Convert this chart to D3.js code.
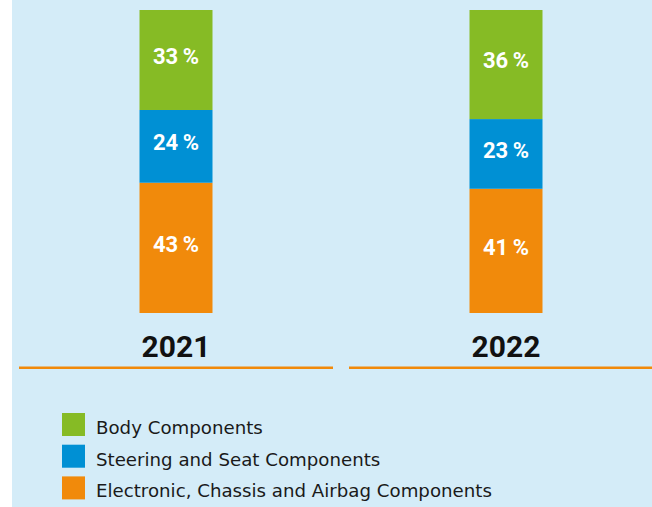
<!DOCTYPE html>
<html>
<head>
<meta charset="utf-8">
<script src="https://cdn.jsdelivr.net/npm/d3@7"></script>
<style>
  body { margin: 0; background: #ffffff; }
  .bg { fill: #d4ecf8; }
  .val { fill: #ffffff; font-family: Roboto, sans-serif; font-weight: bold; font-size: 22px; text-anchor: middle; }
  .year { fill: #111111; font-family: Roboto, sans-serif; font-weight: bold; font-size: 30px; text-anchor: middle; }
  .legend { fill: #1a1a1a; font-family: "DejaVu Sans", sans-serif; font-size: 18.2px; }
</style>
</head>
<body>
<div id="chart"></div>
<script>
// data
var years = ["2021", "2022"];
var categories = ["Electronic, Chassis and Airbag Components", "Steering and Seat Components", "Body Components"];
var shares2021 = [43, 24, 33];   // bottom to top
var shares2022 = [41, 23, 36];
var legendOrder = ["Body Components", "Steering and Seat Components", "Electronic, Chassis and Airbag Components"];

var colors = {
    "Body Components": "#86bb25",
    "Steering and Seat Components": "#0090d4",
    "Electronic, Chassis and Airbag Components": "#f18a0b"
};

var W = 652, H = 507;

var svg = d3.select("#chart")
    .append("svg")
        .attr("width", W)
        .attr("height", H);

// light blue panel
svg.append("rect").attr("class", "bg")
    .attr("x", 12).attr("y", 0)
    .attr("width", W - 12).attr("height", H);

// build the stacked table
var table = years.map(function(y, i) {
    var row = {year: y};
    var vals = i == 0 ? shares2021 : shares2022;
    categories.forEach(function(c, j) { row[c] = vals[j]; });
    return row;
});
var series = d3.stack().keys(categories)(table);

// scales
var x = d3.scaleBand().domain(years).range([19, 663]).paddingInner(16 / 330);
var y = d3.scaleLinear().domain([0, 100]).range([313, 10]);
var barW = 73;

function barX(d) { return x(d.data.year) + x.bandwidth() / 2 - barW / 2; }

var groups = svg.selectAll("g.layer")
    .data(series)
    .enter().append("g")
        .attr("class", "layer")
        .style("fill", function(d) { return colors[d.key]; });

groups.selectAll("rect")
    .data(function(d) { return d; })
    .enter().append("rect")
        .attr("x", barX)
        .attr("width", barW)
        .attr("y", function(d) { return y(d[1]); })
        .attr("height", function(d) { return y(d[0]) - y(d[1]); });

// percent labels inside the segments
groups.selectAll("text")
    .data(function(d) { return d; })
    .enter().append("text")
        .attr("class", "val")
        .attr("x", function(d) { return x(d.data.year) + x.bandwidth() / 2; })
        .attr("y", function(d) { return (y(d[0]) + y(d[1])) / 2 - 4; })
        .attr("dy", "0.36em")
        .text(function(d) { return (d[1] - d[0]) + "\u2009%"; });

// year labels and the orange rule under each
years.forEach(function(yr) {
    svg.append("text")
        .attr("class", "year")
        .attr("x", x(yr) + x.bandwidth() / 2)
        .attr("y", 357)
        .text(yr);

    svg.append("rect")
        .attr("x", x(yr))
        .attr("y", 366.5)
        .attr("width", x.bandwidth())
        .attr("height", 2.5)
        .style("fill", "#f18a0b");
});

// legend
var legend = svg.selectAll("g.leg")
    .data(legendOrder)
    .enter().append("g")
        .attr("class", "leg")
        .attr("transform", function(d, i) { return "translate(62," + (413 + i * 31.7) + ")"; });

legend.append("rect")
    .attr("width", 23)
    .attr("height", 23)
    .style("fill", function(d) { return colors[d]; });

legend.append("text")
    .attr("class", "legend")
    .attr("x", 34)
    .attr("y", 21)
    .text(function(d) { return d; });
</script>
</body>
</html>
